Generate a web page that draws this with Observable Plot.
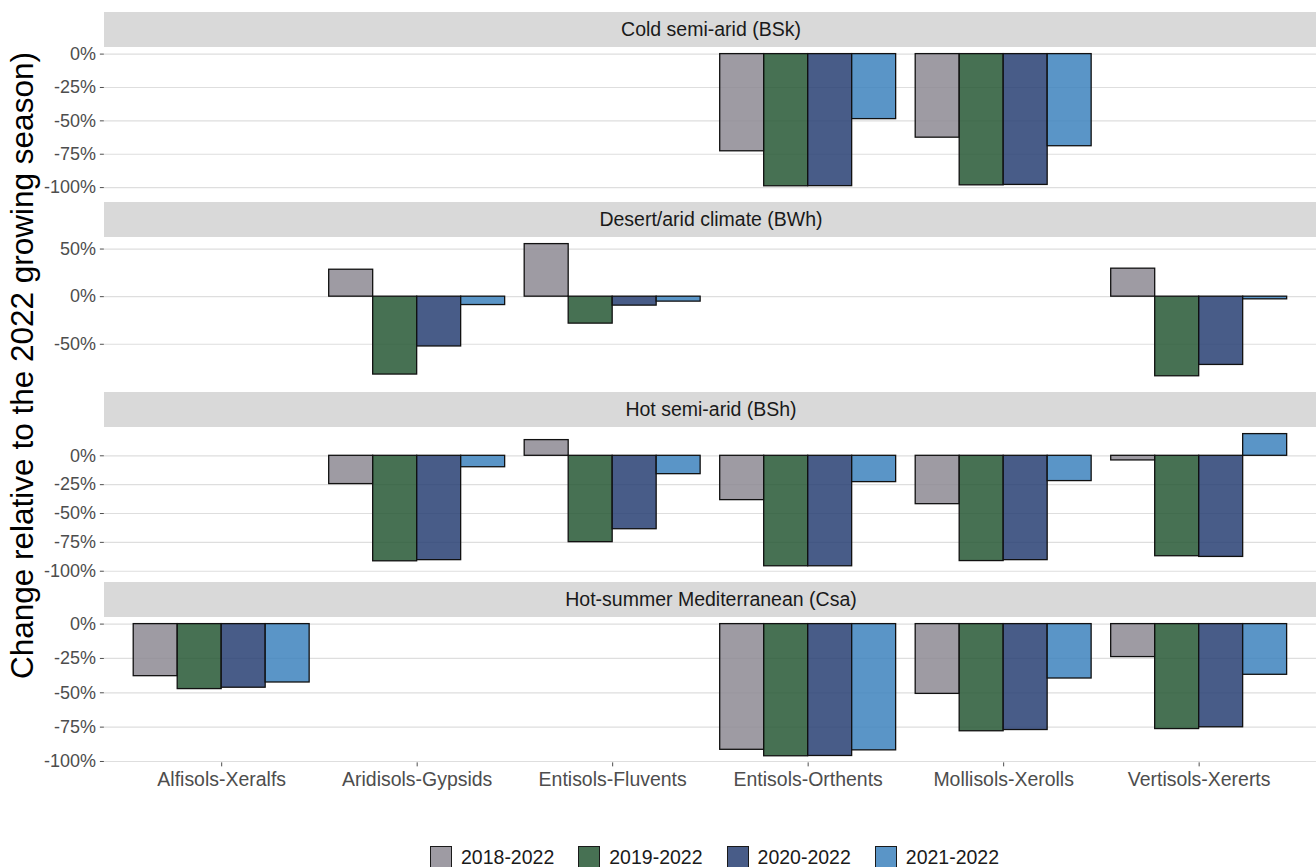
<!DOCTYPE html>
<html>
<head>
<meta charset="utf-8">
<script src="https://cdn.jsdelivr.net/npm/d3@7"></script>
<script src="https://cdn.jsdelivr.net/npm/@observablehq/plot@0.6"></script>
<style>
  html, body { margin: 0; padding: 0; background: #fff; overflow: hidden; }
  #chart { position: relative; width: 1316px; height: 867px; overflow: hidden; background: #fff;
           font-family: "Liberation Sans", Arial, Helvetica, sans-serif; }
  .strip { position: absolute; background: #d9d9d9; color: #1a1a1a; font-size: 19.5px;
           display: flex; align-items: center; justify-content: center; }
  .panel { position: absolute; }
  .ytitle { position: absolute; font-size: 31.5px; color: #000; white-space: nowrap;
            transform-origin: 0 0; }
  .legend { position: absolute; display: flex; align-items: center; font-size: 19.5px; color: #1a1a1a; }
  .legend .key { width: 22px; height: 22px; border: 1.3px solid #1a1a1a; box-sizing: border-box; margin-right: 9px; }
  .legend .item { display: flex; align-items: center; margin-right: 24px; }
</style>
</head>
<body>
<div id="chart"></div>
<script>
// Soil suborders along the x axis
const soils = ["Alfisols-Xeralfs", "Aridisols-Gypsids", "Entisols-Fluvents",
               "Entisols-Orthents", "Mollisols-Xerolls", "Vertisols-Xererts"];
// Comparison periods (one bar per period in each group)
const periods = ["2018-2022", "2019-2022", "2020-2022", "2021-2022"];
const periodColors = ["#8d8993", "#275835", "#283f73", "#3d83bd"];
// Climate zones, one facet row each
const climates = ["Cold semi-arid (BSk)", "Desert/arid climate (BWh)",
                  "Hot semi-arid (BSh)", "Hot-summer Mediterranean (Csa)"];

// Percent change per period, listed in soil order (null = no data)
const bsk2018 = [null, null, null, -72.8, -62.6, null];
const bsk2019 = [null, null, null, -99.0, -98.3, null];
const bsk2020 = [null, null, null, -98.9, -98.0, null];
const bsk2021 = [null, null, null, -48.7, -69.0, null];

const bwh2018 = [null, 28.3, 55.2, null, null, 29.4];
const bwh2019 = [null, -81.8, -28.3, null, null, -83.6];
const bwh2020 = [null, -52.3, -9.4, null, null, -71.7];
const bwh2021 = [null, -8.8, -5.2, null, null, -2.8];

const bsh2018 = [null, -24.5, 13.6, -38.4, -41.9, -4.0];
const bsh2019 = [null, -91.4, -74.8, -95.7, -91.2, -87.0];
const bsh2020 = [null, -90.4, -63.6, -95.7, -90.4, -87.6];
const bsh2021 = [null, -9.9, -15.9, -22.8, -21.9, 18.8];

const csa2018 = [-37.9, null, null, -91.5, -50.8, -24.0];
const csa2019 = [-47.3, null, null, -96.2, -78.0, -76.4];
const csa2020 = [-46.3, null, null, -96.0, -77.1, -75.1];
const csa2021 = [-42.5, null, null, -91.9, -39.6, -36.9];

// Tick values for each climate panel
const ticksPct = [-100, -75, -50, -25, 0];
const ticksBWh = [-50, 0, 50];

const climateValues = [
  [bsk2018, bsk2019, bsk2020, bsk2021],
  [bwh2018, bwh2019, bwh2020, bwh2021],
  [bsh2018, bsh2019, bsh2020, bsh2021],
  [csa2018, csa2019, csa2020, csa2021]
];
const climateTicks = [ticksPct, ticksBWh, ticksPct, ticksPct];

// Layout
const STRIP_TOP = 12, ROW_STEP = 190.1, STRIP_H = 34.6, PANEL_H = 145.6;
const LEFT = 104, WIDTH = 1318, X_AXIS_H = 44;
const BAR_GROUP = 0.9; // dodge width within one category

const chart = document.getElementById("chart");

climates.forEach((climate, ci) => {
  const top = STRIP_TOP + ci * ROW_STEP;
  const isLast = ci === climates.length - 1;

  const strip = document.createElement("div");
  strip.className = "strip";
  Object.assign(strip.style, {left: LEFT + "px", top: top + "px", width: (WIDTH - LEFT) + "px", height: STRIP_H + "px"});
  strip.textContent = climate;
  chart.appendChild(strip);

  const rows = [];
  climateValues[ci].forEach((series, pi) => {
    series.forEach((v, si) => {
      if (v != null) rows.push({soil: si + 1, period: periods[pi], pi, value: v});
    });
  });

  // free y scale per panel, padded by 5% of the data range
  const lo = Math.min(0, d3.min(rows, d => d.value));
  const hi = Math.max(0, d3.max(rows, d => d.value));
  const pad = (hi - lo) * 0.05;
  const w = BAR_GROUP / periods.length;

  const plot = Plot.plot({
    width: WIDTH,
    height: PANEL_H + (isLast ? X_AXIS_H : 0),
    marginLeft: LEFT, marginRight: 0, marginTop: 0, marginBottom: isLast ? X_AXIS_H : 0,
    style: {background: "transparent", overflow: "visible", fontFamily: "Liberation Sans, Arial, sans-serif"},
    x: {domain: [0.4, soils.length + 0.6], axis: null},
    y: {domain: [lo - pad, hi + pad], axis: null},
    color: {domain: periods, range: periodColors},
    marks: [
      Plot.gridY(climateTicks[ci], {stroke: "#dedede", strokeOpacity: 1, strokeWidth: 1.2}),
      Plot.axisY(climateTicks[ci], {
        tickFormat: d => `${d}%`, tickSize: 4, tickPadding: 4.5,
        fontSize: 18, color: "#4d4d4d", stroke: "#4d4d4d", label: null
      }),
      Plot.rect(rows, {
        x1: d => d.soil - BAR_GROUP / 2 + d.pi * w,
        x2: d => d.soil - BAR_GROUP / 2 + (d.pi + 1) * w,
        y1: 0, y2: "value",
        fill: "period", fillOpacity: 0.85,
        stroke: "#111", strokeWidth: 1.3
      }),
      isLast ? Plot.axisX(d3.range(1, soils.length + 1), {
        tickFormat: i => soils[i - 1], tickSize: 4, tickPadding: 5.6,
        fontSize: 19.5, color: "#4d4d4d", stroke: "#4d4d4d", label: null
      }) : null
    ]
  });
  plot.classList.add("panel");
  Object.assign(plot.style, {position: "absolute", left: "0px", top: (top + STRIP_H) + "px"});
  chart.appendChild(plot);
});

// Shared y-axis title
const ytitle = document.createElement("div");
ytitle.className = "ytitle";
ytitle.textContent = "Change relative to the 2022 growing season)";
chart.appendChild(ytitle);
{
  const wTitle = ytitle.getBoundingClientRect().width;
  const hTitle = ytitle.getBoundingClientRect().height;
  const cy = 366, cx = 22;
  ytitle.style.left = (cx - hTitle / 2) + "px";
  ytitle.style.top = (cy + wTitle / 2) + "px";
  ytitle.style.transform = "rotate(-90deg)";
}

// Legend below the panels
const legend = document.createElement("div");
legend.className = "legend";
periods.forEach((p, i) => {
  const item = document.createElement("div");
  item.className = "item";
  const key = document.createElement("div");
  key.className = "key";
  key.style.background = d3.color(periodColors[i]).copy({opacity: 0.85}).formatRgb();
  const label = document.createElement("span");
  label.textContent = p;
  item.appendChild(key);
  item.appendChild(label);
  legend.appendChild(item);
});
chart.appendChild(legend);
{
  const r = legend.getBoundingClientRect();
  legend.style.left = "430px";
  legend.style.top = (857 - r.height / 2) + "px";
}
</script>
</body>
</html>
